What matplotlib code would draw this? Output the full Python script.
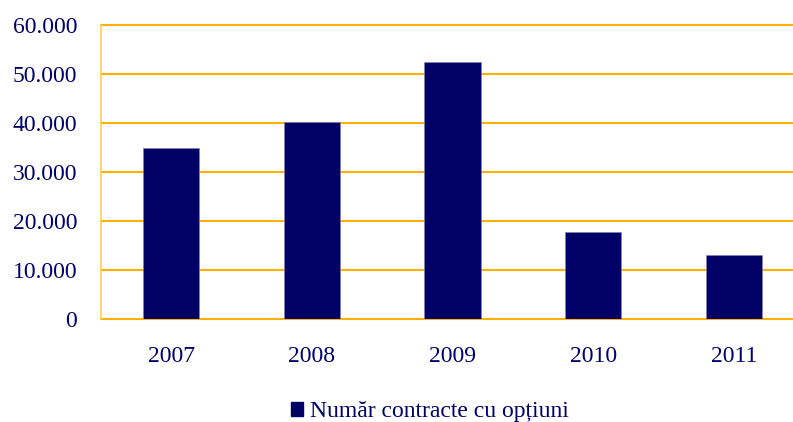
import matplotlib.pyplot as plt
from matplotlib.patches import Patch
from matplotlib.ticker import FuncFormatter

# data
years = ['2007', '2008', '2009', '2010', '2011']
contracts = [34800, 40100, 52400, 17700, 13100]
yticks = [0, 10000, 20000, 30000, 40000, 50000, 60000]
legend_label = 'Număr contracte cu opțiuni'

navy = '#000066'
gold = '#FFB000'

plt.rcParams['font.family'] = ['Liberation Serif', 'DejaVu Serif']

fig = plt.figure(figsize=(7.93, 4.22), dpi=100)
ax = fig.add_axes([100.7 / 793, 103.3 / 422, 703.5 / 793, 294 / 422])

x = range(len(years))
ax.bar(x, contracts, width=0.4, color=navy, edgecolor='#8080b0', linewidth=0.5, zorder=3)

ax.set_xlim(-0.5, len(years) - 0.5)
ax.set_ylim(0, 60000)
ax.set_yticks(yticks)
ax.yaxis.set_major_formatter(FuncFormatter(lambda v, p: f'{int(v):,}'.replace(',', '.')))
ax.set_xticks(list(x))
ax.set_xticklabels(years)

ax.grid(axis='y', color=gold, linewidth=1.5, zorder=0)
for gl in ax.get_ygridlines():
    gl.set_clip_on(False)
ax.tick_params(axis='both', length=0, labelsize=17, labelcolor=navy)
ax.tick_params(axis='y', pad=17)
ax.tick_params(axis='x', pad=20)

for s in ['top', 'right', 'bottom']:
    ax.spines[s].set_visible(False)
ax.spines['left'].set_color('#FFD070')
ax.spines['left'].set_linewidth(1.3)

fig.legend(handles=[Patch(facecolor=navy, edgecolor=navy, label=legend_label)],
           loc='center', bbox_to_anchor=(430 / 793, 1 - 412 / 422),
           frameon=False, fontsize=17, labelcolor=navy,
           handlelength=0.5, handleheight=0.5, handletextpad=0.3)

fig.savefig('out.png', dpi=100)
